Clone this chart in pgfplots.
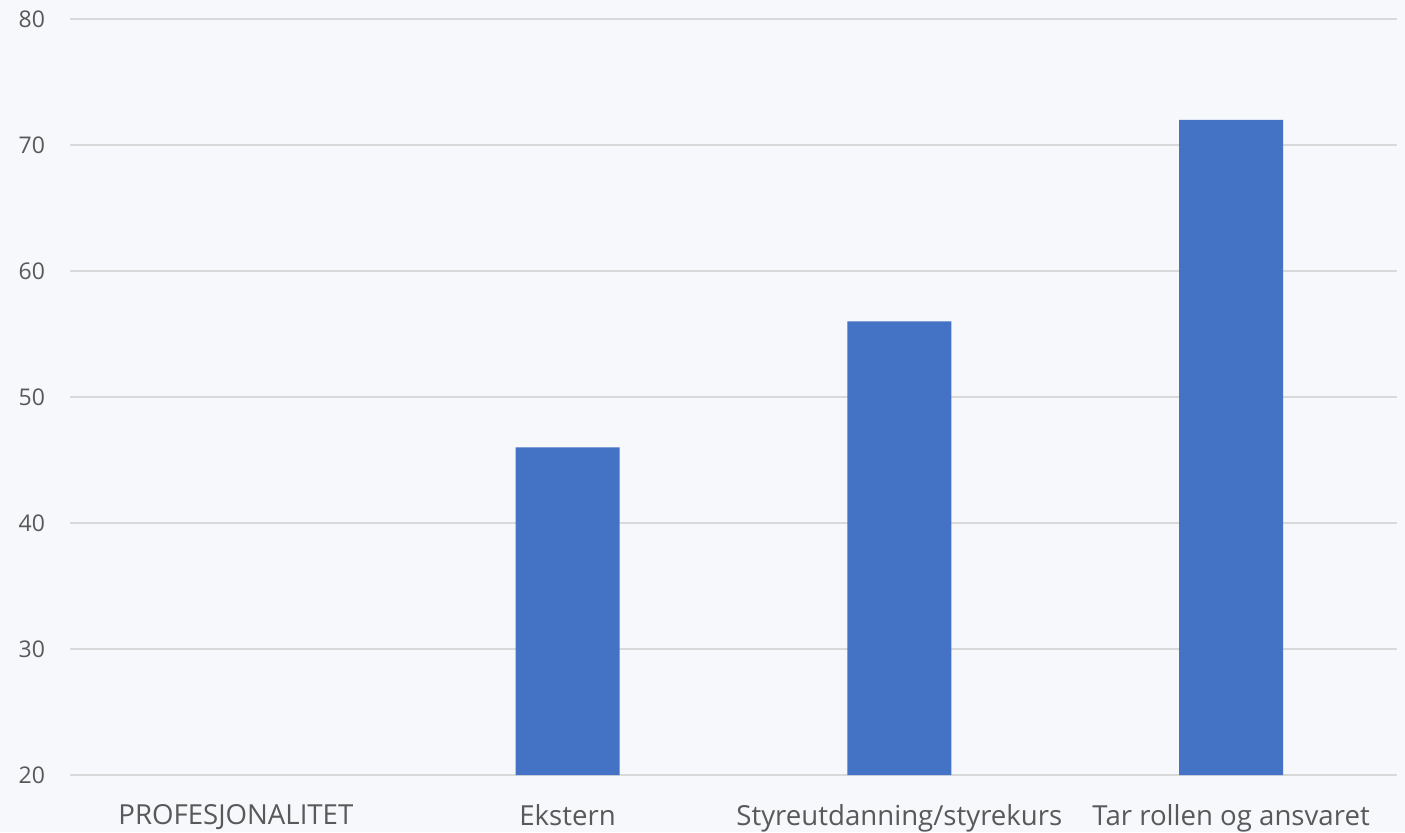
\documentclass[border=0pt]{standalone}
\usepackage{pgfplots}
\pgfplotsset{compat=1.18}
\usepackage{fontspec}
\setmainfont{Open Sans}
\definecolor{bg}{HTML}{F7F8FC}
\definecolor{gridgray}{HTML}{D9D9D9}
\definecolor{txt}{HTML}{595959}
\definecolor{barblue}{HTML}{4472C4}
\begin{document}
\begin{tikzpicture}
\fill[bg] (-35pt,-28.5pt) rectangle (667.5pt,387.5pt);
\useasboundingbox (-35pt,-28.5pt) rectangle (667.5pt,387.5pt);
\begin{axis}[
  at={(0,0)}, anchor=south west,
  scale only axis, width=663.5pt, height=378pt,
  ymin=20, ymax=80, ytick={20,30,...,80},
  xmin=-0.5, xmax=3.5, xtick={0,1,2,3},
  xticklabels={PROFESJONALITET,Ekstern,Styreutdanning/styrekurs,Tar rollen og ansvaret},
  ybar, bar width=52pt,
  axis line style={draw=none},
  major tick length=0pt,
  ymajorgrids, xmajorgrids=false, grid style={draw=gridgray, line width=0.75pt},
  /pgf/number format/assume math mode=true,
  yticklabel style={font=\fontsize{11.5}{12}\selectfont, text=txt, anchor=east, xshift=-9pt},
  xticklabel style={font=\fontsize{13.8}{15}\selectfont, text=txt, anchor=north, yshift=-11pt},
  clip=true,
]
\addplot[fill=barblue, draw=none] coordinates {(1,46) (2,56) (3,72)};
\end{axis}
\end{tikzpicture}
\end{document}
